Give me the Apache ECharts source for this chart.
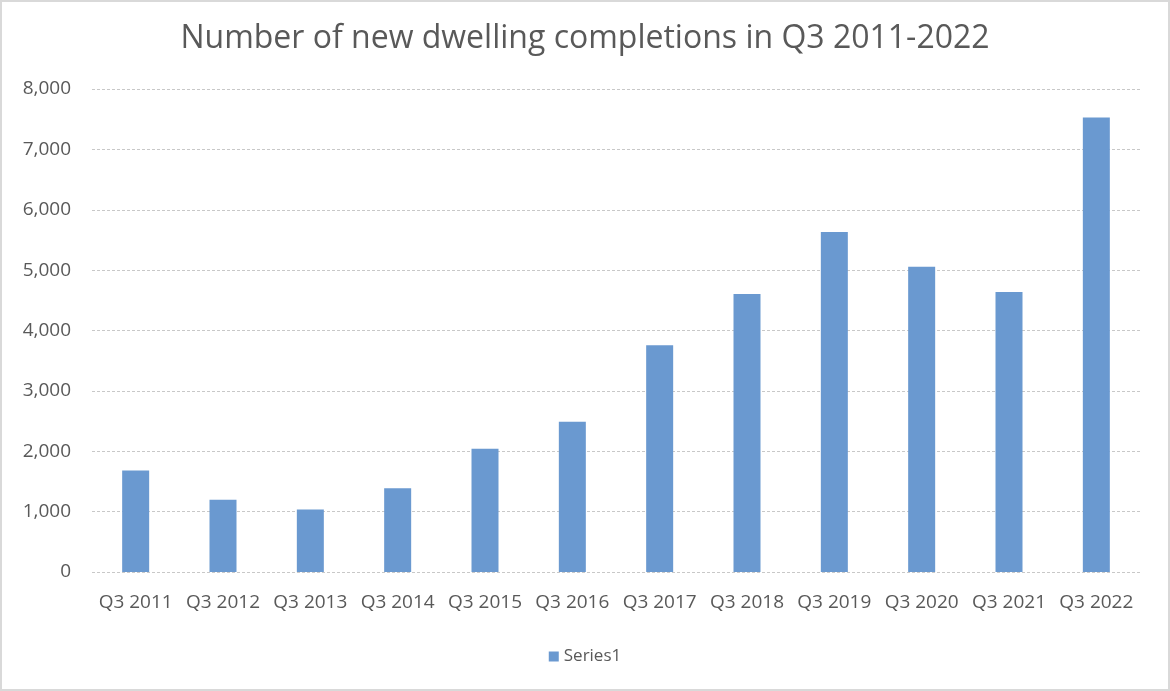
<!DOCTYPE html>
<html>
<head>
<meta charset="utf-8">
<script src="https://cdn.jsdelivr.net/npm/echarts@6/dist/echarts.min.js"></script>
<style>
  html, body { margin: 0; padding: 0; background: #fff; }
  #main { width: 1170px; height: 691px; box-sizing: border-box; border: 2px solid #d9d9d9; }
</style>
</head>
<body>
<div id="main"></div>
<script>
// quarters on the x axis
var categories = ['Q3 2011', 'Q3 2012', 'Q3 2013', 'Q3 2014', 'Q3 2015', 'Q3 2016',
                  'Q3 2017', 'Q3 2018', 'Q3 2019', 'Q3 2020', 'Q3 2021', 'Q3 2022'];
// completions
var completions = [1680, 1196, 1036, 1389, 2040, 2490, 3755, 4606, 5633, 5056, 4639, 7527];
var yMin = 0, yMax = 8000, yStep = 1000;

var font = '"Open Sans", sans-serif';
var myChart = echarts.init(document.getElementById('main'));
myChart.setOption({
    title: {
        text: 'Number of new dwelling completions in Q3 2011-2022',
        left: 'center',
        top: 16,
        textStyle: { fontFamily: font, fontWeight: 'normal', fontSize: 32, color: '#595959' }
    },
    legend: {
        bottom: 19,
        left: 'center',
        itemWidth: 10,
        itemHeight: 10,
        icon: 'rect',
        itemGap: 4,
        textStyle: { fontFamily: font, fontSize: 17, color: '#595959' }
    },
    grid: { left: 90, right: 28, top: 87, bottom: 117 },
    xAxis: {
        type: 'category',
        data: categories,
        axisLine: { show: false },
        axisTick: { show: false },
        axisLabel: { fontFamily: font, fontSize: 19, color: '#595959', margin: 21, interval: 0 }
    },
    yAxis: {
        type: 'value',
        min: yMin,
        max: yMax,
        interval: yStep,
        axisLine: { show: false },
        axisTick: { show: false },
        axisLabel: {
            fontFamily: font, fontSize: 19, color: '#595959', margin: 21,
            formatter: function (v) { return v.toLocaleString('en-US'); }
        },
        splitLine: { lineStyle: { color: '#c8c8c8', type: [3, 2], width: 1 } }
    },
    series: [{
        name: 'Series1',
        type: 'bar',
        data: completions,
        barWidth: 27,
        itemStyle: { color: '#6a99d0' }
    }]
});
</script>
</body>
</html>
